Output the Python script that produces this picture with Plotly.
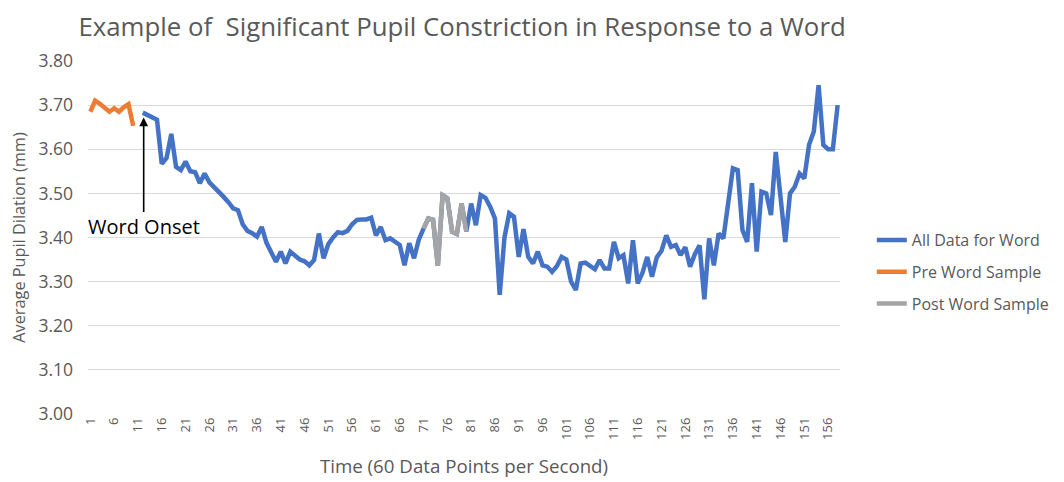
import plotly.graph_objects as go

# ---- data ----
pre_x = list(range(1, 11))
pre_vals = [3.685, 3.710, 3.703, 3.693, 3.685, 3.693, 3.685, 3.695, 3.702, 3.653]

all_x = list(range(12, 159))
all_vals = [
    3.683, 3.677, 3.672, 3.667, 3.567, 3.580, 3.635, 3.560, 3.553, 3.572,  # 12-21
    3.550, 3.548, 3.523, 3.545, 3.525, 3.515, 3.503, 3.492, 3.480, 3.466,  # 22-31
    3.462, 3.430, 3.415, 3.410, 3.402, 3.424, 3.388, 3.365, 3.345, 3.368,  # 32-41
    3.341, 3.368, 3.358, 3.350, 3.346, 3.337, 3.349, 3.409, 3.353, 3.385,  # 42-51
    3.400, 3.412, 3.410, 3.415, 3.430, 3.440, 3.441, 3.441, 3.445, 3.405,  # 52-61
    3.424, 3.394, 3.398, 3.390, 3.383, 3.337, 3.387, 3.353, 3.395, 3.420,  # 62-71
    3.443, 3.440, 3.336, 3.496, 3.489, 3.413, 3.408, 3.477, 3.414, 3.477,  # 72-81
    3.428, 3.496, 3.490, 3.470, 3.443, 3.270, 3.400, 3.455, 3.447, 3.356,  # 82-91
    3.419, 3.356, 3.341, 3.368, 3.337, 3.334, 3.322, 3.335, 3.356, 3.350,  # 92-101
    3.300, 3.281, 3.341, 3.343, 3.335, 3.328, 3.349, 3.330, 3.330, 3.390,  # 102-111
    3.353, 3.360, 3.296, 3.394, 3.296, 3.320, 3.356, 3.311, 3.355, 3.370,  # 112-121
    3.405, 3.379, 3.383, 3.360, 3.378, 3.334, 3.362, 3.382, 3.260, 3.398,  # 122-131
    3.337, 3.409, 3.398, 3.477, 3.557, 3.553, 3.417, 3.390, 3.523, 3.368,  # 132-141
    3.504, 3.500, 3.451, 3.594, 3.490, 3.390, 3.500, 3.515, 3.545, 3.534,  # 142-151
    3.610, 3.640, 3.745, 3.610, 3.600, 3.600, 3.700,                       # 152-158
]

post_x = list(range(71, 81))
post_vals = [all_vals[i - 12] for i in post_x]

x_tick_vals = list(range(1, 159, 5))
x_tick_text = [str(v) for v in x_tick_vals]
y_tick_vals = [3.0, 3.1, 3.2, 3.3, 3.4, 3.5, 3.6, 3.7, 3.8]

onset_x = 12.2
onset_tip = 3.672
onset_text_y = 3.424

FONT = "Open Sans"
GRAY_TXT = "#595959"

fig = go.Figure()
fig.add_trace(go.Scatter(x=all_x, y=all_vals, mode="lines", name="All Data for Word",
                         line=dict(color="#4472C4", width=4.5), legendgroup="a"))
fig.add_trace(go.Scatter(x=pre_x, y=pre_vals, mode="lines", name="Pre Word Sample",
                         line=dict(color="#ED7D31", width=4.5), legendgroup="b"))
fig.add_trace(go.Scatter(x=post_x, y=post_vals, mode="lines", name="Post Word Sample",
                         line=dict(color="#A5A5A5", width=4.5), legendgroup="c"))

fig.add_annotation(x=onset_x, y=onset_tip, ax=onset_x, ay=onset_text_y,
                   xref="x", yref="y", axref="x", ayref="y",
                   text="Word Onset", showarrow=True, arrowhead=2, arrowsize=1.1,
                   arrowwidth=1.6, arrowcolor="black",
                   font=dict(family=FONT, size=20, color="black"))

fig.update_layout(
    width=1056, height=474,
    paper_bgcolor="white", plot_bgcolor="white",
    margin=dict(l=80, r=224, t=53, b=68, autoexpand=False),
    font=dict(family=FONT, color=GRAY_TXT),
    title=dict(text="Example of\u00a0 Significant Pupil Constriction in Response to a Word",
               x=0.43, xanchor="center", y=0.96, yanchor="middle",
               font=dict(family=FONT, size=25.8, color=GRAY_TXT)),
    showlegend=True,
    legend=dict(xref="container", yref="container", x=0.818, xanchor="left",
                y=0.443, yanchor="middle",
                font=dict(family=FONT, size=16, color=GRAY_TXT),
                tracegroupgap=8, traceorder="grouped", bgcolor="rgba(0,0,0,0)"),
)

fig.update_xaxes(range=[0.5, 158.5], tickmode="array", tickvals=x_tick_vals,
                 ticktext=x_tick_text, tickangle=-90, showgrid=False, zeroline=False,
                 showline=False, ticks="", automargin=False,
                 tickfont=dict(family=FONT, size=13, color=GRAY_TXT),
                 title=dict(text="Time (60 Data Points per Second)", standoff=20,
                            font=dict(family=FONT, size=18.7, color=GRAY_TXT)))
fig.update_yaxes(range=[3.0, 3.8], tickmode="array", tickvals=y_tick_vals,
                 tickformat=".2f", showgrid=True, gridcolor="#D9D9D9", gridwidth=1.3,
                 zeroline=False, showline=False, ticks="", ticklabelstandoff=14,
                 automargin=False,
                 tickfont=dict(family=FONT, size=17.5, color=GRAY_TXT),
                 title=dict(text="Average Pupil Dilation (mm)", standoff=9,
                            font=dict(family=FONT, size=16.3, color=GRAY_TXT)))

fig.write_html("out.html")
